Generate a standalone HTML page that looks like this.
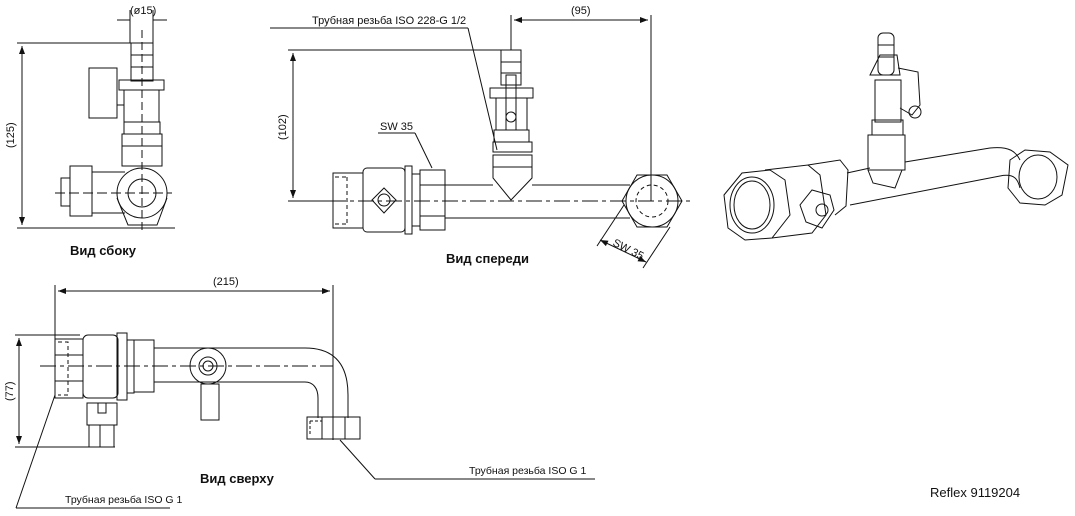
<!DOCTYPE html>
<html><head><meta charset="utf-8"><style>
html,body{margin:0;padding:0;background:#fff;width:1075px;height:516px;overflow:hidden}
svg{display:block}
text{font-family:"Liberation Sans","DejaVu Sans",sans-serif;fill:#111}
</style></head><body>
<svg width="1075" height="516" viewBox="0 0 1075 516" xmlns="http://www.w3.org/2000/svg">
<defs>
<marker id="a" markerWidth="8" markerHeight="6" refX="8" refY="3" orient="auto-start-reverse"><path d="M0,0 L8,3 L0,6 Z" fill="#111"/></marker>
</defs>
<g fill="none" stroke="#111" stroke-width="1">
<!-- SIDE VIEW -->
<line x1="117" y1="20" x2="130" y2="20"/><line x1="153" y1="20" x2="167" y2="20"/>
<line x1="130" y1="10" x2="130" y2="43"/><line x1="153" y1="10" x2="153" y2="43"/>
<line x1="17" y1="43" x2="135" y2="43"/><line x1="17" y1="228" x2="175" y2="228"/>
<line x1="22" y1="46" x2="22" y2="225" marker-start="url(#a)" marker-end="url(#a)"/>
<rect x="131" y="43" width="22" height="38"/>
<line x1="131" y1="55" x2="153" y2="55"/><line x1="131" y1="67" x2="153" y2="67"/>
<rect x="119" y="80" width="45" height="10"/>
<rect x="124" y="90" width="35" height="32"/>
<rect x="89" y="68" width="28" height="50"/>
<line x1="117" y1="105" x2="124" y2="105"/>
<rect x="124" y="122" width="36" height="12"/>
<rect x="122" y="134" width="40" height="12"/>
<rect x="122" y="146" width="40" height="20"/>
<circle cx="142" cy="193" r="25"/>
<circle cx="142" cy="193" r="14"/>
<path d="M117,198 L128,225 L157,225 L167,198"/>
<rect x="70" y="166" width="22" height="50"/>
<rect x="61" y="178" width="9" height="28"/>
<line x1="92" y1="172" x2="125" y2="172"/><line x1="92" y1="213" x2="125" y2="213"/>
<line x1="142" y1="30" x2="142" y2="232" stroke-dasharray="8,4"/>
<line x1="55" y1="193" x2="172" y2="193" stroke-dasharray="10,4"/>

<!-- FRONT VIEW -->
<line x1="270" y1="28" x2="468" y2="28"/>
<line x1="468" y1="28" x2="497" y2="150"/>
<line x1="288" y1="50" x2="510" y2="50"/>
<line x1="288" y1="201" x2="330" y2="201"/>
<line x1="293" y1="53" x2="293" y2="198" marker-start="url(#a)" marker-end="url(#a)"/>
<line x1="511" y1="15" x2="511" y2="50"/>
<line x1="651" y1="15" x2="651" y2="201"/>
<line x1="514" y1="20" x2="648" y2="20" marker-start="url(#a)" marker-end="url(#a)"/>
<line x1="330" y1="201" x2="690" y2="201" stroke-dasharray="16,4,4,4"/>
<!-- left valve -->
<rect x="333" y="173" width="30" height="55"/>
<path d="M335,177 H347 M347,177 V224 M335,224 H347" stroke-dasharray="4,3"/>
<rect x="363" y="168" width="42" height="64" rx="4"/>
<path d="M372,200 L384,188 L396,200 L384,213 Z"/>
<circle cx="384" cy="200" r="6"/>
<rect x="405" y="166" width="7" height="68"/>
<rect x="412" y="174" width="8" height="52"/>
<rect x="420" y="170" width="25" height="60"/>
<line x1="420" y1="185" x2="445" y2="185"/><line x1="420" y1="216" x2="445" y2="216"/>
<line x1="445" y1="185" x2="493" y2="185"/><line x1="445" y1="218" x2="630" y2="218"/>
<line x1="532" y1="185" x2="630" y2="185"/>
<line x1="378" y1="133" x2="415" y2="133"/><line x1="415" y1="133" x2="432" y2="168"/>
<!-- drain valve -->
<rect x="501" y="50" width="20" height="35"/>
<line x1="501" y1="62" x2="521" y2="62"/><line x1="501" y1="73" x2="521" y2="73"/>
<rect x="490" y="88" width="43" height="10"/>
<rect x="496" y="98" width="31" height="32"/>
<rect x="506" y="75" width="10" height="55"/>
<circle cx="511" cy="117" r="5"/>
<rect x="494" y="130" width="35" height="12"/>
<rect x="493" y="142" width="39" height="10"/>
<rect x="493" y="155" width="39" height="12"/>
<path d="M493,167 V178 L511,200 L532,178 V167"/>
<!-- hex right -->
<path d="M622,201 L637,175 L667,175 L682,201 L667,227 L637,227 Z"/>
<circle cx="652" cy="201" r="26"/>
<circle cx="652" cy="201" r="16" stroke-dasharray="4,3"/>
<line x1="624" y1="205" x2="597" y2="246"/>
<line x1="670" y1="227" x2="643" y2="268"/>
<line x1="600" y1="240" x2="646" y2="262" marker-start="url(#a)" marker-end="url(#a)"/>

<!-- PHOTO (isometric) -->
<path d="M724,195 L742,173 L770,170 L785,180 L790,215 L772,238 L745,240 L728,228 Z"/>
<ellipse cx="752" cy="205" rx="22" ry="28"/>
<ellipse cx="752" cy="205" rx="18" ry="24"/>
<path d="M765,170 L808,165 L820,175 L826,215 L812,233 L772,238"/>
<path d="M808,165 L840,160 L848,170 L846,206 L835,215"/>
<path d="M812,190 L830,195 L834,210 L822,228 L806,222 L800,205 Z"/>
<circle cx="822" cy="210" r="6"/>
<path d="M847,173 L870,168 M850,205 L1000,176 C1015,173 1018,180 1020,188"/>
<path d="M905,162 L990,148 C1010,146 1016,152 1020,160"/>
<path d="M868,170 L873,183 L895,188 L902,170"/>
<path d="M868,135 H905 V170 H868 Z"/>
<path d="M872,120 H903 V135 H872 Z"/>
<path d="M870,75 L880,55 H897 L900,75 Z"/>
<rect x="875" y="80" width="26" height="42"/>
<rect x="878" y="33" width="16" height="42" rx="5"/>
<line x1="878" y1="45" x2="894" y2="45"/><line x1="878" y1="57" x2="894" y2="57"/>
<path d="M898,68 L918,72 L920,105 L912,115 L900,108"/>
<circle cx="915" cy="112" r="6"/>
<path d="M1010,160 L1025,150 L1050,152 L1068,165 L1062,195 L1045,205 L1020,203 L1008,188 Z"/>
<ellipse cx="1038" cy="177" rx="19" ry="22"/>

<!-- TOP VIEW -->
<line x1="55" y1="285" x2="55" y2="395"/>
<line x1="333" y1="285" x2="333" y2="440"/>
<line x1="58" y1="291" x2="330" y2="291" marker-start="url(#a)" marker-end="url(#a)"/>
<line x1="15" y1="335" x2="80" y2="335"/><line x1="15" y1="447" x2="115" y2="447"/>
<line x1="19" y1="338" x2="19" y2="444" marker-start="url(#a)" marker-end="url(#a)"/>
<rect x="55" y="339" width="28" height="59"/>
<path d="M58,342 H68 V395 H58" stroke-dasharray="4,3"/>
<line x1="55" y1="355" x2="83" y2="355"/><line x1="55" y1="381" x2="83" y2="381"/>
<rect x="83" y="335" width="35" height="63" rx="5"/>
<rect x="117" y="333" width="10" height="67"/>
<rect x="127" y="340" width="7" height="53"/>
<rect x="134" y="340" width="20" height="52"/>
<line x1="154" y1="348" x2="305" y2="348"/><line x1="154" y1="382" x2="305" y2="382"/>
<path d="M305,348 C335,348 348,365 348,395 V418"/>
<path d="M305,382 C313,382 318,388 318,398 V418"/>
<rect x="307" y="417" width="53" height="22"/>
<path d="M310,421 H322 M310,421 V436" stroke-dasharray="3,2"/>
<line x1="322" y1="417" x2="322" y2="439"/><line x1="345" y1="417" x2="345" y2="439"/>
<circle cx="208" cy="366" r="18"/><circle cx="208" cy="366" r="9"/><circle cx="208" cy="366" r="5"/>
<rect x="201" y="384" width="18" height="36"/>
<rect x="87" y="403" width="30" height="22"/>
<rect x="98" y="403" width="8" height="10"/>
<rect x="89" y="425" width="25" height="22"/>
<line x1="100" y1="425" x2="100" y2="447"/>
<line x1="40" y1="366" x2="333" y2="366" stroke-dasharray="16,4,4,4"/>
<line x1="340" y1="440" x2="375" y2="479"/><line x1="375" y1="479" x2="595" y2="479"/>
<line x1="55" y1="395" x2="16" y2="508"/><line x1="16" y1="508" x2="170" y2="508"/>
</g>
<g font-size="11">
<text x="130" y="14">(ø15)</text>
<text x="312" y="24">Трубная резьба ISO 228-G 1/2</text>
<text x="571" y="14">(95)</text>
<text x="380" y="130">SW 35</text>
<text x="213" y="285">(215)</text>
<text x="469" y="474" font-size="10.5">Трубная резьба ISO G 1</text>
<text x="65" y="503" font-size="10.5">Трубная резьба ISO G 1</text>
<text transform="translate(14,148) rotate(-90)">(125)</text>
<text transform="translate(286,140) rotate(-90)">(102)</text>
<text transform="translate(13,401) rotate(-90)">(77)</text>
<text transform="translate(612,245) rotate(27)">SW 35</text>
</g>
<g font-size="13" font-weight="bold">
<text x="70" y="255">Вид сбоку</text>
<text x="446" y="263">Вид спереди</text>
<text x="200" y="483">Вид сверху</text>
</g>
<text x="930" y="497" font-size="13">Reflex  9119204</text>
</svg>
</body></html>
